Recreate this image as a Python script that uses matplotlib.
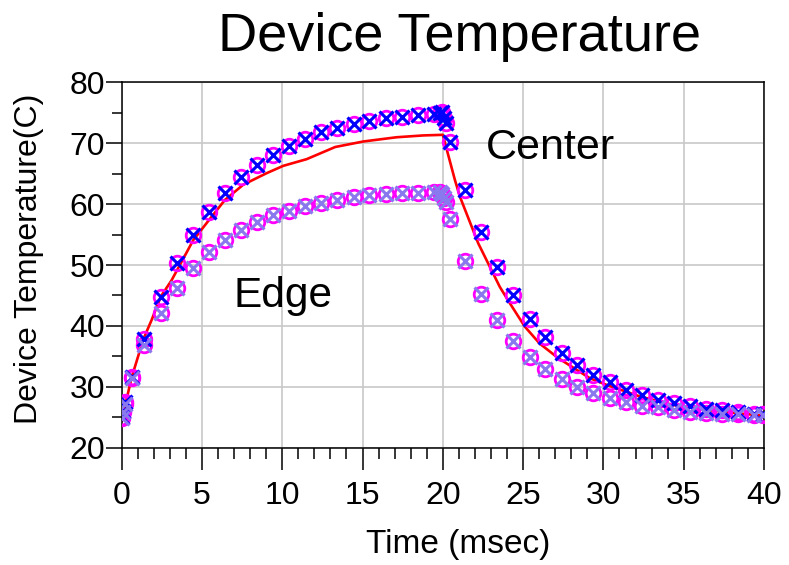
import matplotlib
matplotlib.use('Agg')
import matplotlib.pyplot as plt
from matplotlib.ticker import MultipleLocator

plt.rcParams['font.family'] = ['Liberation Sans', 'DejaVu Sans']

# sample times (msec) for the marker series
time = [0, 0.1, 0.2, 0.62, 1.4, 2.42, 3.46, 4.46, 5.44, 6.43, 7.45, 8.42,
        9.42, 10.42, 11.43, 12.43, 13.43, 14.46, 15.42, 16.45, 17.45, 18.45,
        19.45, 19.8, 19.95, 20.1, 20.2, 20.45, 21.4, 22.35, 23.39, 24.35,
        25.42, 26.36, 27.4, 28.34, 29.37, 30.4, 31.4, 32.4, 33.4, 34.4,
        35.4, 36.4, 37.4, 38.4, 39.4, 39.95]
center = [25.0, 26.0, 27.5, 31.6, 37.8, 44.8, 50.3, 54.9, 58.7, 61.8, 64.4,
          66.5, 68.1, 69.6, 70.7, 71.8, 72.6, 73.1, 73.7, 74.2, 74.4, 74.7,
          74.9, 75.0, 75.2, 74.2, 73.3, 70.3, 62.3, 55.4, 49.6, 45.0, 41.2,
          38.1, 35.6, 33.6, 31.9, 30.7, 29.5, 28.6, 27.9, 27.3, 26.8, 26.3,
          26.1, 25.8, 25.5, 25.5]
edge = [24.8, 25.8, 27.2, 31.4, 36.9, 42.1, 46.2, 49.5, 52.1, 54.1, 55.8,
        57.0, 58.2, 58.9, 59.7, 60.2, 60.7, 61.1, 61.5, 61.7, 61.8, 61.9,
        62.05, 62.0, 61.7, 61.0, 60.4, 57.5, 50.7, 45.2, 40.9, 37.5, 34.9,
        32.9, 31.2, 29.9, 28.9, 28.1, 27.5, 26.8, 26.6, 26.2, 25.9, 25.7,
        25.6, 25.5, 25.4, 25.4]

# red curve
line_t = [0, 0.62, 1.35, 1.87, 2.43, 3.11, 4.46, 5.44, 6.43, 7.57, 9.03,
          10.06, 11.52, 13.3, 15.04, 17.12, 18.78, 20.0, 20.75, 21.07, 22.2,
          22.93, 23.55, 24.18, 25.1, 26.03, 27.19, 29.16, 30.2, 32.27, 34.35,
          36.4, 38.5, 40.0]
line_T = [24.5, 31.5, 37.8, 41.0, 44.8, 47.5, 54.1, 57.4, 60.7, 63.2, 65.1,
          66.3, 67.4, 69.4, 70.3, 71.0, 71.3, 71.4, 64.0, 61.2, 53.6, 49.7,
          46.4, 43.7, 39.9, 37.1, 34.7, 31.4, 30.3, 28.4, 27.0, 26.2, 25.6,
          25.25]


def main():
    fig = plt.figure(figsize=(7.89, 5.65), dpi=100)
    ax = fig.add_axes([0.1542, 0.2078, 0.8141, 0.6462])

    ax.plot(line_t, line_T, color='red', lw=1.9, zorder=2)

    ms = 10.5
    ax.plot(time, center, ls='none', marker='o', ms=ms, mfc='none',
            mec='#ff00ff', mew=2.0, zorder=3)
    ax.plot(time, center, ls='none', marker='x', ms=ms - 1, mec='#0000ff',
            mew=2.2, zorder=4)
    ax.plot(time, edge, ls='none', marker='o', ms=ms, mfc='none',
            mec='#ff00ff', mew=2.0, zorder=3)
    ax.plot(time, edge, ls='none', marker='x', ms=ms - 1, mec='#8a78ee',
            mew=2.2, zorder=4)

    ax.set_xlim(0, 40)
    ax.set_ylim(20, 80)
    ax.xaxis.set_major_locator(MultipleLocator(5))
    ax.xaxis.set_minor_locator(MultipleLocator(1))
    ax.yaxis.set_major_locator(MultipleLocator(10))
    ax.yaxis.set_minor_locator(MultipleLocator(5))
    ax.grid(which='major', color='#c8c8c8', lw=1.2)
    ax.set_axisbelow(True)

    ax.tick_params(axis='both', which='both', direction='out', width=1.1,
                   labelsize=23)
    ax.tick_params(axis='x', which='major', length=16, pad=8)
    ax.tick_params(axis='x', which='minor', length=8)
    ax.tick_params(axis='y', which='major', length=11.5, pad=0.5)
    ax.tick_params(axis='y', which='minor', length=7)
    for sp in ax.spines.values():
        sp.set_linewidth(1.1)

    ax.set_xlabel('Time (msec)', fontsize=24)
    ax.set_ylabel('Device Temperature(C)', fontsize=23)
    ax.xaxis.set_label_coords(0.524, -0.222)
    ax.yaxis.set_label_coords(-0.1205, 0.5166)

    ax.text(22.7, 67.4, 'Center', fontsize=31, ha='left', va='baseline')
    ax.text(6.95, 43.1, 'Edge', fontsize=30.5, ha='left', va='baseline')

    fig.text(460 / 789, 1 - 51 / 565, 'Device Temperature', fontsize=39,
             ha='center', va='baseline')

    fig.savefig('out.png', dpi=100)


if __name__ == '__main__':
    main()
